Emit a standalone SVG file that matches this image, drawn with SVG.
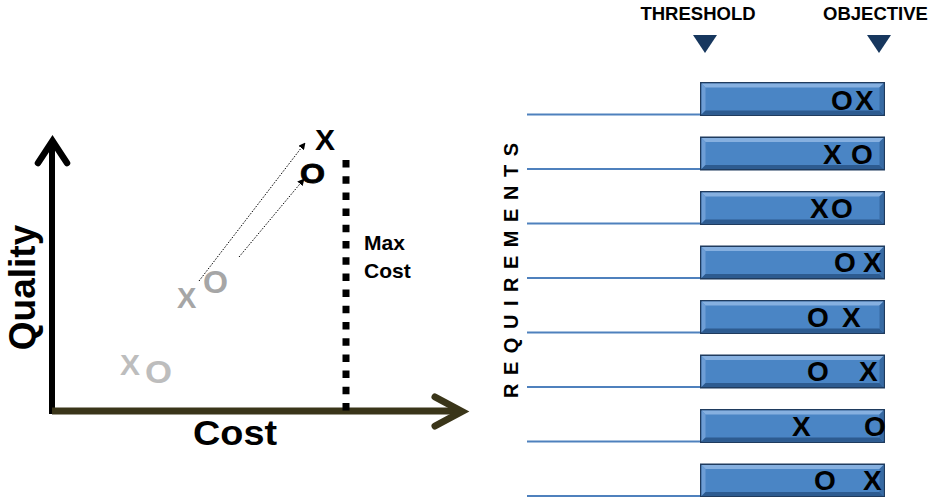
<svg xmlns="http://www.w3.org/2000/svg" xmlns:xlink="http://www.w3.org/1999/xlink" width="932" height="497" viewBox="0 0 932 497">
<style>
  .b { font-family: "Liberation Sans", Arial, sans-serif; font-weight: bold; }
  .lbl { font-size: 18.5px; fill: #000; }
  .mk { font-size: 28px; fill: #000; }
  .rl { stroke: #4f81bd; stroke-width: 2; }
  .dot { stroke: #000; stroke-width: 1; stroke-dasharray: 1.5 1.5; fill: none; }
</style>
<defs>
  <marker id="ah" viewBox="0 0 10 10" refX="9" refY="5" markerWidth="7" markerHeight="7" orient="auto" markerUnits="userSpaceOnUse">
    <path d="M0,0 L10,5 L0,10 z" fill="#000"/>
  </marker>
  <g id="bar">
    <rect x="0.75" y="0.75" width="183.5" height="32.5" fill="#4a85c5" stroke="#1f3b5e" stroke-width="1.5"/>
    <polygon points="1.5,1.5 183.5,1.5 179.5,5.5 5.5,5.5" fill="#86b0e0"/>
    <polygon points="1.5,1.5 5.5,5.5 5.5,28.5 1.5,32.5" fill="#6e9ed6"/>
    <polygon points="1.5,32.5 5.5,28.5 179.5,28.5 183.5,32.5" fill="#2d5b90"/>
    <polygon points="183.5,1.5 179.5,5.5 179.5,28.5 183.5,32.5" fill="#376aa3"/>
  </g>
</defs>

<!-- Left chart -->
<g id="quality-axis">
  <line x1="52" y1="142" x2="52" y2="414" stroke="#000" stroke-width="6"/>
  <polyline points="38,163 52.5,141 67,163" fill="none" stroke="#000" stroke-width="6.5" stroke-linecap="round" stroke-linejoin="miter"/>
  <text class="b" font-size="37" transform="translate(35,287.5) rotate(-90)" text-anchor="middle">Quality</text>
</g>
<g id="cost-axis">
  <line x1="52" y1="411" x2="460" y2="411" stroke="#3a3519" stroke-width="7"/>
  <polyline points="435,397 462,411.5 435,426" fill="none" stroke="#3a3519" stroke-width="7" stroke-linecap="round" stroke-linejoin="miter"/>
  <text class="b" font-size="35" x="193" y="445" textLength="84" lengthAdjust="spacingAndGlyphs">Cost</text>
</g>
<g id="max-cost">
  <line x1="346" y1="160" x2="346" y2="411" stroke="#000" stroke-width="7" stroke-dasharray="7.5 8.7"/>
  <text class="b" font-size="21" x="364" y="250">Max</text>
  <text class="b" font-size="21" x="364" y="278">Cost</text>
</g>
<g id="point-low">
  <text class="b" font-size="30" x="120" y="375" fill="#bdbdbd">X</text>
  <text class="b" font-size="31" x="145" y="383" fill="#bdbdbd" textLength="27" lengthAdjust="spacingAndGlyphs">O</text>
</g>
<g id="point-mid">
  <text class="b" font-size="29" x="177" y="308" fill="#a6a6a6">X</text>
  <text class="b" font-size="31" x="203" y="293" fill="#a6a6a6" textLength="25" lengthAdjust="spacingAndGlyphs">O</text>
</g>
<g id="point-high">
  <text class="b" font-size="30" x="315" y="150" fill="#000">X</text>
  <text class="b" font-size="28" x="300" y="183" fill="#000" stroke="#000" stroke-width="0.8" textLength="25" lengthAdjust="spacingAndGlyphs">O</text>
</g>
<g id="connectors">
  <line class="dot" x1="199" y1="281" x2="305" y2="143" marker-end="url(#ah)"/>
  <line class="dot" x1="239" y1="257" x2="304" y2="179" marker-end="url(#ah)"/>
</g>

<!-- Right chart -->
<g id="threshold">
  <text class="b lbl" x="698" y="20" text-anchor="middle">THRESHOLD</text>
  <polygon points="693,35 717,35 705,53" fill="#17375e"/>
</g>
<g id="objective">
  <text class="b lbl" x="875.5" y="20" text-anchor="middle">OBJECTIVE</text>
  <polygon points="867,35 891,35 879,53" fill="#17375e"/>
</g>
<g id="requirements-label">
  <text class="b" font-size="20" transform="translate(518,398) rotate(-90)" textLength="255" lengthAdjust="spacing">R E Q U I R E M E N T S</text>
</g>

<g id="req-lines">
  <line class="rl" x1="527" y1="114.5" x2="700" y2="114.5"/>
  <line class="rl" x1="527" y1="169" x2="700" y2="169"/>
  <line class="rl" x1="527" y1="223.5" x2="700" y2="223.5"/>
  <line class="rl" x1="527" y1="278" x2="700" y2="278"/>
  <line class="rl" x1="527" y1="332.5" x2="700" y2="332.5"/>
  <line class="rl" x1="527" y1="387" x2="700" y2="387"/>
  <line class="rl" x1="527" y1="441.5" x2="700" y2="441.5"/>
  <line class="rl" x1="527" y1="496" x2="700" y2="496"/>
</g>

<g id="req1">
  <use xlink:href="#bar" href="#bar" x="700" y="82"/>
  <text class="b mk"><tspan x="831" y="110">O</tspan><tspan x="855" y="110">X</tspan></text>
</g>
<g id="req2">
  <use xlink:href="#bar" href="#bar" x="700" y="136.5"/>
  <text class="b mk"><tspan x="823" y="163.5">X</tspan><tspan x="851" y="163.5">O</tspan></text>
</g>
<g id="req3">
  <use xlink:href="#bar" href="#bar" x="700" y="191"/>
  <text class="b mk"><tspan x="810" y="218">X</tspan><tspan x="831" y="218">O</tspan></text>
</g>
<g id="req4">
  <use xlink:href="#bar" href="#bar" x="700" y="245.5"/>
  <text class="b mk"><tspan x="834" y="272">O</tspan><tspan x="863" y="272">X</tspan></text>
</g>
<g id="req5">
  <use xlink:href="#bar" href="#bar" x="700" y="300"/>
  <text class="b mk"><tspan x="807" y="326.5">O</tspan><tspan x="842" y="326.5">X</tspan></text>
</g>
<g id="req6">
  <use xlink:href="#bar" href="#bar" x="700" y="354.5"/>
  <text class="b mk"><tspan x="807" y="381">O</tspan><tspan x="859" y="381">X</tspan></text>
</g>
<g id="req7">
  <use xlink:href="#bar" href="#bar" x="700" y="409"/>
  <text class="b mk"><tspan x="792" y="436">X</tspan><tspan x="864" y="436">O</tspan></text>
</g>
<g id="req8">
  <use xlink:href="#bar" href="#bar" x="700" y="463.5"/>
  <text class="b mk"><tspan x="814" y="489.5">O</tspan><tspan x="863" y="489.5">X</tspan></text>
</g>
</svg>
